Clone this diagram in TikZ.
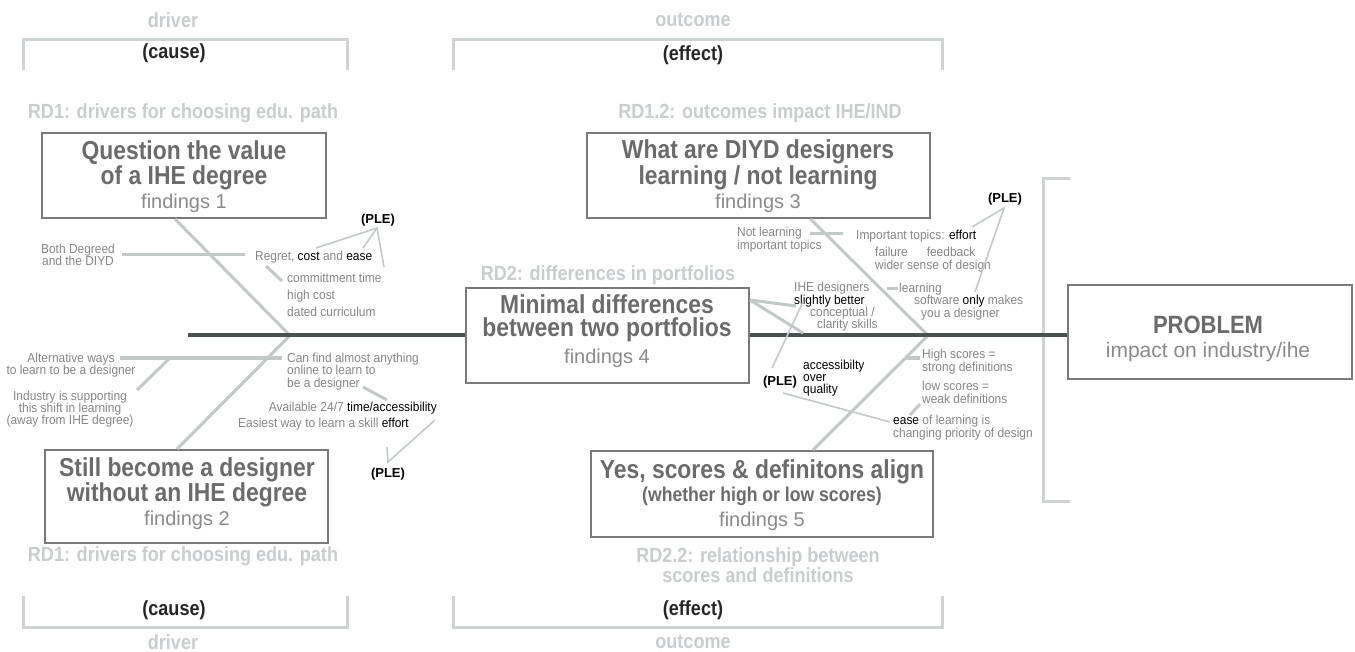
\documentclass[tikz,border=0pt]{standalone}
\usepackage{fontspec}
\setmainfont{Liberation Sans}
\newfontfamily\condfont[FakeStretch=0.88]{Liberation Sans}
\newfontfamily\narrowfont[FakeStretch=0.92]{Liberation Sans}

\definecolor{boxgray}{HTML}{7A7A7A}
\definecolor{titlegray}{HTML}{6B6B6B}
\definecolor{findgray}{HTML}{8A8A8A}
\definecolor{notegray}{HTML}{858585}
\definecolor{palegray}{HTML}{C9CDCD}
\definecolor{bracketgray}{HTML}{CFD3D3}
\definecolor{bonegray}{HTML}{C3C8C8}
\definecolor{spinegray}{HTML}{4B5050}
\definecolor{inkdark}{HTML}{262626}

\tikzset{
  fbox/.style={draw=boxgray, line width=2pt, inner sep=0pt, fill=white},
  ttl/.style={font=\condfont\bfseries\fontsize{26}{21}\selectfont, text=titlegray, inner sep=0pt, align=center},
  subttl/.style={font=\condfont\bfseries\fontsize{20}{18}\selectfont, text=titlegray, inner sep=0pt},
  find/.style={font=\fontsize{20}{20}\selectfont, text=findgray, inner sep=0pt},
  rd/.style={font=\condfont\bfseries\fontsize{20.5}{18}\selectfont, text=palegray, inner sep=0pt, align=center},
  causelbl/.style={font=\condfont\bfseries\fontsize{20.5}{18}\selectfont, text=inkdark, inner sep=0pt},
  note/.style={font=\narrowfont\fontsize{13}{12.3}\selectfont, text=notegray, inner sep=0pt},
  ple/.style={font=\bfseries\fontsize{13}{13}\selectfont, text=black, inner sep=0pt},
  bone/.style={draw=bonegray, line width=3pt},
  twig/.style={draw=bonegray, line width=1.6pt},
  spine/.style={draw=spinegray, line width=4pt},
  bracket/.style={draw=bracketgray, line width=3pt},
}
\newcommand{\blk}[1]{{\color{black}#1}}

\begin{document}
\begin{tikzpicture}[x=1pt,y=-1pt]
\useasboundingbox (0,0) rectangle (1355,652);

% ---------- brackets ----------
\draw[bracket] (23,70) -- (23,40) -- (347,40) -- (347,70);
\draw[bracket] (453,70) -- (453,40) -- (942,40) -- (942,70);
\draw[bracket] (23,596) -- (23,627) -- (347,627) -- (347,596);
\draw[bracket] (453,596) -- (453,627) -- (942,627) -- (942,596);
\draw[bracket] (1070,179) -- (1043,179) -- (1043,501) -- (1070,501);

\node[rd] (drvTop) at (173,20) {driver};
\node[causelbl] (causeTop) at (174,53) {(cause)};
\node[rd] (outTop) at (693,20) {outcome};
\node[causelbl] (effTop) at (693,55) {(effect)};
\node[causelbl] (causeBot) at (174,610) {(cause)};
\node[rd] (drvBot) at (173,642) {driver};
\node[causelbl] (effBot) at (693,610) {(effect)};
\node[rd] (outBot) at (693,642) {outcome};

% ---------- research-direction labels ----------
\node[rd] (rd1a) at (183,113) {RD1: drivers for choosing edu. path};
\node[rd] (rd12) at (760,113) {RD1.2: outcomes impact IHE/IND};
\node[rd] (rd2) at (608,275) {RD2: differences in portfolios};
\node[rd] (rd1b) at (183,556) {RD1: drivers for choosing edu. path};
\node[rd] (rd22) at (758,565) {RD2.2: relationship between\\scores and definitions};

% ---------- joints ----------
\coordinate (spineStart) at (188,335.5);
\coordinate (jL) at (290,335.5);
\coordinate (jR) at (928,335.5);

% ---------- boxes ----------
\node[fbox, minimum width=284pt, minimum height=85pt] (q1) at (184,175.5) {};
\node[fbox, minimum width=283pt, minimum height=93pt] (q2) at (186.5,496.5) {};
\node[fbox, minimum width=343pt, minimum height=85pt] (q3) at (758.5,175.5) {};
\node[fbox, minimum width=342pt, minimum height=86pt] (q5) at (762,494) {};

% ---------- spine and bones ----------
\draw[bone] ([xshift=-9pt]q1.south) -- (jL);
\draw[bone] (jL) -- ([xshift=-9.5pt]q2.north);
\draw[bone] ([xshift=52pt]q3.south) -- (jR);
\draw[bone] (jR) -- ([xshift=51pt]q5.north);

\node[fbox, minimum width=283pt, minimum height=94pt] (q4) at (607.5,335.5) {};
\node[fbox, minimum width=284pt, minimum height=94pt] (prob) at (1210,332) {};
\draw[spine] (spineStart) -- (q4.west);
\draw[spine] (q4.east) -- (q4.east -| prob.west);

% ---------- box texts ----------
\node[ttl] (q1t) at (184,165) {Question the value\\of a IHE degree};
\node[find] (q1c) at (184,203) {findings 1};

\node[ttl, font=\condfont\bfseries\fontsize{26}{20}\selectfont] (q2t) at (187,482.5) {Still become a designer\\without an IHE degree};
\node[find] (q2c) at (187,520) {findings 2};

\node[ttl, font=\condfont\bfseries\fontsize{26}{23}\selectfont] (q3t) at (758,165) {What are DIYD designers\\learning / not learning};
\node[find] (q3c) at (758,203) {findings 3};

\node[ttl, font=\condfont\bfseries\fontsize{26}{23}\selectfont] (q4t) at (607,318.5) {Minimal differences\\between two portfolios};
\node[find] (q4c) at (607,358) {findings 4};

\node[ttl] (q5a) at (762,472) {Yes, scores \& definitons align};
\node[subttl] (q5b) at (762,496) {(whether high or low scores)};
\node[find] (q5c) at (762,521) {findings 5};

\node[ttl, font=\condfont\bfseries\fontsize{25}{22}\selectfont] (pa) at (1208,325) {PROBLEM};
\node[find, font=\fontsize{21}{21}\selectfont] (pb) at (1208,352) {impact on industry/ihe};

% ---------- left (cause) notes ----------
\node[note, align=center] (both) at (78,255) {Both Degreed\\and the DIYD};
\node[note, anchor=west] (regret) at (255,257) {Regret, \blk{cost} and \blk{ease}};
\node[note, align=left, anchor=west, font=\narrowfont\fontsize{13}{16.8}\selectfont] (commit) at (287,295) {committment time\\high cost\\dated curriculum};
\node[ple] (ple1) at (378,220) {(PLE)};

\node[note, align=center] (alt) at (71,365) {Alternative ways\\to learn to be a designer};
\node[note, align=center] (industry) at (70,409) {Industry is supporting\\this shift in learning\\(away from IHE degree)};
\node[note, align=left, anchor=west] (canfind) at (287,371.5) {Can find almost anything\\online to learn to\\be a designer};
\node[note, anchor=east] (avail) at (437,408) {Available 24/7 \blk{time/accessibility}};
\node[note, anchor=east] (easiest) at (409,424) {Easiest way to learn a skill \blk{effort}};
\node[ple] (ple2) at (388,474) {(PLE)};

% ---------- right (effect) notes ----------
\node[note, align=left, anchor=west] (notlearn) at (737,239.5) {Not learning\\important topics};
\node[note, anchor=west] (imptop) at (856,236) {Important topics: \blk{effort}};
\node[note, align=left, anchor=west] (failure) at (875,259.5) {failure\hspace{19pt}feedback\\wider sense of design};
\node[note, align=left, anchor=west] (learning) at (899,301.5) {learning\\\hspace*{15pt}software \blk{only} makes\\\hspace*{22pt}you a designer};
\node[ple] (ple3) at (1005,199) {(PLE)};

\node[note, align=left, anchor=west] (ihe) at (794,307) {IHE designers\\\blk{slightly better}\\\hspace*{16pt}conceptual /\\\hspace*{23pt}clarity skills};
\node[ple] (ple4) at (780,382) {(PLE)};
\node[note, align=left, anchor=west, text=black] (accq) at (803,378) {accessibilty\\over\\quality};
\node[note, align=left, anchor=west] (high) at (922,361.5) {High scores =\\strong definitions};
\node[note, align=left, anchor=west] (low) at (922,392.5) {low scores =\\weak definitions};
\node[note, align=left, anchor=west] (ease) at (893,427.5) {\blk{ease} of learning is\\changing priority of design};

% ---------- rib ends ----------
\coordinate (r1a) at (122,255);  \coordinate (r1b) at (245,255);
\coordinate (r2a) at (266,266);  \coordinate (r2b) at (282,281);
\coordinate (p1)  at (377,228);
\coordinate (p1a) at (316,248);  \coordinate (p1b) at (363,248);  \coordinate (p1c) at (384,267);
\coordinate (r3a) at (120,358);  \coordinate (r3b) at (282,358);
\coordinate (r4a) at (137,390);  \coordinate (r4b) at (170,358);
\coordinate (r5a) at (363,387);  \coordinate (r5b) at (387,400);
\coordinate (p2)  at (388,462);
\coordinate (p2a) at (435,420);  \coordinate (p2b) at (387,447);

\coordinate (r6a) at (810,234);  \coordinate (r6b) at (843,234);
\coordinate (p3)  at (1004,208);
\coordinate (p3a) at (972,227);  \coordinate (p3b) at (975,292);
\coordinate (r7a) at (887,289);  \coordinate (r7b) at (898,289);
\coordinate (r8a) at (750,300);  \coordinate (r8b) at (796,306);  \coordinate (r8c) at (803,333);
\coordinate (p4a) at (772,368);  \coordinate (p4b) at (803,302);
\coordinate (p4c) at (783,393);  \coordinate (p4d) at (890,422);
\coordinate (r9a) at (905,358);  \coordinate (r9b) at (920,358);
\coordinate (r10a) at (920,404); \coordinate (r10b) at (910,415);

% ---------- ribs ----------
\draw[bone] (r1a) -- (r1b);
\draw[bone] (r3a) -- (r3b);
\draw[bone] (r4a) -- (r4b);
\draw[bone] (r6a) -- (r6b);
\draw[bone] (r7a) -- (r7b);
\draw[bone] (r9a) -- (r9b);
\draw[bone] (r8a) -- (r8b);
\draw[bone] (r8a) -- (r8c);
\draw[bone] (r2a) -- (r2b);
\draw[bone] (r5a) -- (r5b);
\draw[bone] (r10a) -- (r10b);

% ---------- links to the PLE notes ----------
\draw[twig] (p1a) -- (p1) -- (p1c);
\draw[twig] (p1b) -- (p1);
\draw[twig] (p2a) -- (p2) -- (p2b);
\draw[twig] (p3a) -- (p3) -- (p3b);
\draw[twig] (p4a) -- (p4b);
\draw[twig] (p4c) -- (p4d);
\end{tikzpicture}
\end{document}
